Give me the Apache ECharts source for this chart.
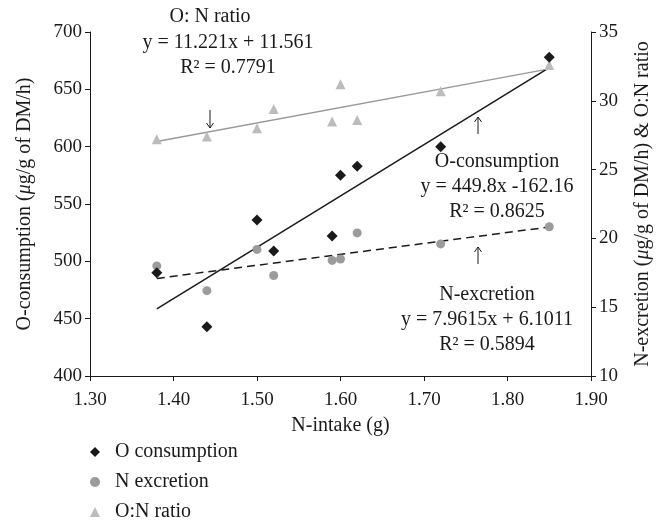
<!DOCTYPE html>
<html>
<head>
<meta charset="utf-8">
<script src="https://cdn.jsdelivr.net/npm/echarts@6/dist/echarts.min.js"></script>
<style>
  html, body { margin: 0; padding: 0; background: #fff; }
  #myChart { width: 663px; height: 524px; }
</style>
</head>
<body>
<div id="myChart"></div>
<script>
// N-intake (g) for each sample
var nIntake = [1.38, 1.44, 1.50, 1.52, 1.59, 1.60, 1.62, 1.72, 1.85];
// O-consumption (left axis)
var oConsumption = [490, 443, 536, 509, 522, 575, 583, 600, 678];
// N-excretion (right axis)
var nExcretion = [18.0, 16.2, 19.2, 17.3, 18.4, 18.5, 20.4, 19.6, 20.85];
// O:N ratio (right axis)
var onRatio = [27.2, 27.4, 28.0, 29.4, 28.5, 31.2, 28.6, 30.7, 32.6];

// trend line end points
var oTrend = [[1.38, 458.6], [1.85, 669.0]];
var nTrend = [[1.38, 17.09], [1.85, 20.83]];
var onTrend = [[1.38, 27.05], [1.85, 32.32]];

var xTicks = ['1.30', '1.40', '1.50', '1.60', '1.70', '1.80', '1.90'];

var font = 'Liberation Serif, Times New Roman, serif';

function pairs(xs, ys) {
  return xs.map(function (x, i) { return [x, ys[i]]; });
}

var axisCommon = {
  axisLine: { show: true, lineStyle: { color: '#1a1a1a', width: 1 } },
  axisTick: { show: true, inside: false, length: 5, lineStyle: { color: '#1a1a1a' } },
  splitLine: { show: false },
  axisLabel: { color: '#1a1a1a', fontFamily: font, fontSize: 19 },
  nameTextStyle: {
    color: '#1a1a1a', fontFamily: font, fontSize: 20,
    rich: { i: { fontFamily: font, fontSize: 20, fontStyle: 'italic', color: '#1a1a1a' } }
  }
};

var option = {
  animation: false,
  grid: { left: 90, right: 72, top: 32, bottom: 148 },
  legend: {
    orient: 'vertical',
    left: 90,
    top: 442,
    padding: 0,
    itemWidth: 10,
    itemHeight: 10,
    itemGap: 10,
    data: ['O consumption', 'N excretion', 'O:N ratio'],
    textStyle: { fontFamily: font, fontSize: 20, color: '#1a1a1a', padding: [0, 0, 0, 10] }
  },
  xAxis: Object.assign({}, axisCommon, {
    type: 'value',
    min: 1.3, max: 1.9, interval: 0.1,
    name: 'N-intake (g)',
    nameLocation: 'middle',
    nameGap: 40,
    axisLabel: Object.assign({}, axisCommon.axisLabel, {
      margin: 15,
      formatter: function (v) {
        var i = Math.round((v - 1.3) * 10);
        return xTicks[i];
      }
    })
  }),
  yAxis: [
    Object.assign({}, axisCommon, {
      type: 'value',
      min: 400, max: 700, interval: 50,
      position: 'left',
      name: 'O-consumption ({i|μ}g/g of DM/h)',
      nameLocation: 'middle',
      nameRotate: 90,
      nameGap: 55,
      axisLabel: Object.assign({}, axisCommon.axisLabel, { margin: 8 })
    }),
    Object.assign({}, axisCommon, {
      type: 'value',
      min: 10, max: 35, interval: 5,
      position: 'right',
      name: 'N-excretion ({i|μ}g/g of DM/h) & O:N ratio',
      nameLocation: 'middle',
      nameRotate: 90,
      nameGap: 42,
      axisLabel: Object.assign({}, axisCommon.axisLabel, { margin: 8 })
    })
  ],
  series: [
    {
      name: 'O:N trend', type: 'line', yAxisIndex: 1, data: onTrend,
      symbol: 'none', lineStyle: { color: '#999', width: 1.5 }, z: 1
    },
    {
      name: 'O trend', type: 'line', yAxisIndex: 0, data: oTrend,
      symbol: 'none', lineStyle: { color: '#1a1a1a', width: 1.5 }, z: 1
    },
    {
      name: 'N trend', type: 'line', yAxisIndex: 1, data: nTrend,
      symbol: 'none', lineStyle: { color: '#1a1a1a', width: 1.5, type: [8, 5] }, z: 1
    },
    {
      name: 'O:N ratio', type: 'scatter', yAxisIndex: 1,
      data: pairs(nIntake, onRatio),
      symbol: 'triangle', symbolSize: 10,
      itemStyle: { color: '#bcbcbc', opacity: 1 }, z: 3
    },
    {
      name: 'N excretion', type: 'scatter', yAxisIndex: 1,
      data: pairs(nIntake, nExcretion),
      symbol: 'circle', symbolSize: 9,
      itemStyle: { color: '#9b9b9b', opacity: 1 }, z: 3
    },
    {
      name: 'O consumption', type: 'scatter', yAxisIndex: 0,
      data: pairs(nIntake, oConsumption),
      symbol: 'diamond', symbolSize: 11,
      itemStyle: { color: '#1a1a1a', opacity: 1 }, z: 4
    }
  ]
};

// annotation texts
var notes = [
  ['O: N ratio', 210, 17],
  ['y = 11.221x + 11.561', 228, 43],
  ['R² = 0.7791', 228, 68],
  ['O-consumption', 497, 162],
  ['y = 449.8x -162.16', 497, 187],
  ['R² = 0.8625', 497, 212],
  ['N-excretion', 487, 295],
  ['y = 7.9615x + 6.1011', 487, 320],
  ['R² = 0.5894', 487, 345]
];
// pointer arrows: x, top, bottom, pointing down?
var arrows = [
  [210, 110, 128, true],
  [478, 117, 134, false],
  [478, 247, 264, false]
];

var graphics = notes.map(function (n) {
  return {
    type: 'text', x: n[1], y: n[2], z: 10,
    style: {
      text: n[0], fill: '#1a1a1a', font: '20px ' + font,
      textAlign: 'center', textVerticalAlign: 'middle'
    }
  };
});
arrows.forEach(function (a) {
  var x = a[0], y1 = a[1], y2 = a[2];
  var tip = a[3] ? y2 : y1;
  var back = a[3] ? tip - 5 : tip + 5;
  graphics.push({
    type: 'line', z: 10,
    shape: { x1: x, y1: y1, x2: x, y2: y2 },
    style: { stroke: '#1a1a1a', lineWidth: 1 }
  });
  graphics.push({
    type: 'polyline', z: 10,
    shape: { points: [[x - 3.5, back], [x, tip], [x + 3.5, back]] },
    style: { stroke: '#1a1a1a', lineWidth: 1, fill: null }
  });
});
option.graphic = graphics;

var chartDom = document.getElementById('myChart');
var myChart = echarts.init(chartDom);
myChart.setOption(option);
</script>
</body>
</html>
